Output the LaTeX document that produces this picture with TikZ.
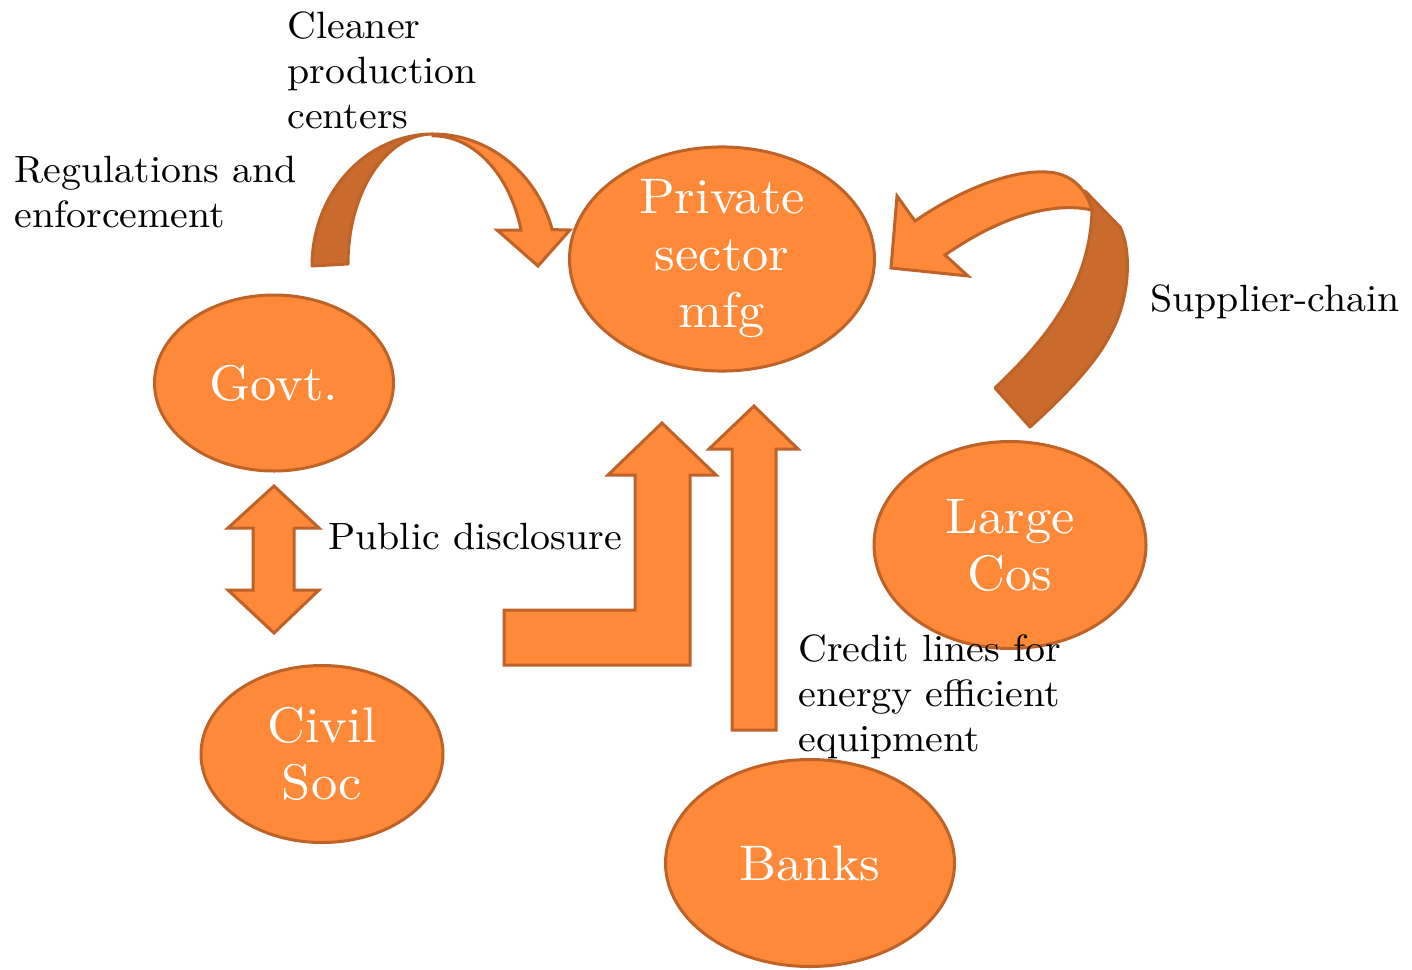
\documentclass[tikz,border=0pt]{standalone}
\usepackage{fontspec}
\setmainfont{lmroman10-regular.otf}[FakeStretch=1.05]
\usetikzlibrary{shapes.geometric}

\definecolor{orfill}{RGB}{253,137,57}
\definecolor{orline}{RGB}{190,98,40}
\definecolor{ordark}{RGB}{200,107,45}

\begin{document}
\begin{tikzpicture}[x=0.5pt,y=-0.5pt,
  blob/.style={ellipse, draw=orline, fill=orfill, line width=1.5pt,
    text=white, font=\fontsize{25}{28.5}\selectfont, align=center, inner sep=0pt},
  band/.style={draw=orline, fill=orfill, line width=1.5pt, line join=miter},
  backband/.style={draw=orline, fill=ordark, line width=1.5pt, line join=round},
  caption/.style={anchor=base west, align=left, inner sep=0pt,
    font=\fontsize{19}{22.5}\selectfont}]

\useasboundingbox (0,0) rectangle (1412,969);

% ---- curved arrow over the top (cleaner production centers)
\filldraw[backband] (312,266)
  arc[start angle=180, end angle=270, x radius=121, y radius=132]
  arc[start angle=270, end angle=180, x radius=85, y radius=130]
  -- cycle;
\filldraw[band] (433,134)
  arc[start angle=270, end angle=344, x radius=124, y radius=132]
  -- (570,230) -- (538,266) -- (497,230) -- (521,230)
  arc[start angle=344, end angle=270, x radius=91.5, y radius=130]
  -- cycle;

% ---- twisted arrow on the right (supplier chain)
\filldraw[backband] (1085,191) -- (1120,227)
  .. controls (1132,250) and (1130,300) .. (1110,335)
  .. controls (1095,365) and (1060,400) .. (1030,427)
  -- (995,388)
  .. controls (1040,345) and (1090,290) .. (1092,210)
  -- cycle;
\filldraw[band] (915,221)
  .. controls (960,190) and (1010,170) .. (1047,172)
  .. controls (1068,173) and (1085,185) .. (1092,210)
  .. controls (1060,203) and (1010,210) .. (945,255)
  -- (968,276) -- (891,268) -- (897,196) -- cycle;

% ---- double arrow between government and civil society
\filldraw[band] (274,486) -- (319,528) -- (294,528) -- (294,590) -- (319,590)
  -- (274,633) -- (228,590) -- (253,590) -- (253,528) -- (228,528) -- cycle;

% ---- bent arrow (public disclosure)
\filldraw[band] (504,665) -- (504,610) -- (635,610) -- (635,475) -- (608,475)
  -- (662,423) -- (716,475) -- (690,475) -- (690,665) -- cycle;

% ---- straight arrow up from the banks
\filldraw[band] (732,730) -- (732,449) -- (709,449) -- (754,406) -- (798,449)
  -- (776,449) -- (776,730) -- cycle;

% ---- actors
\node[blob, minimum width=152.5pt, minimum height=104.5pt] (priv) at (722,259) {Private\\sector\\mfg};
\node[blob, minimum width=119.5pt, minimum height=88pt] (govt) at (274,383) {Govt.};
\node[blob, minimum width=121pt, minimum height=88.5pt] (civil) at (322,754) {Civil\\Soc};
\node[blob, minimum width=136pt, minimum height=103.5pt] (large) at (1010,545) {Large\\Cos};
\node[blob, minimum width=144.5pt, minimum height=103.5pt] (banks) at (810,863) {Banks};

% ---- captions (anchored at the baseline of their last line)
\node[caption] (cpc) at (287,128) {Cleaner\\production\\centers};
\node[caption] (reg) at (14,227) {Regulations and\\enforcement};
\node[caption] (sup) at (1150,311) {Supplier-chain};
\node[caption] (pub) at (328,549) {Public disclosure};
\node[caption] (cred) at (798,751) {Credit lines for\\energy efficient\\equipment};

\end{tikzpicture}
\end{document}
